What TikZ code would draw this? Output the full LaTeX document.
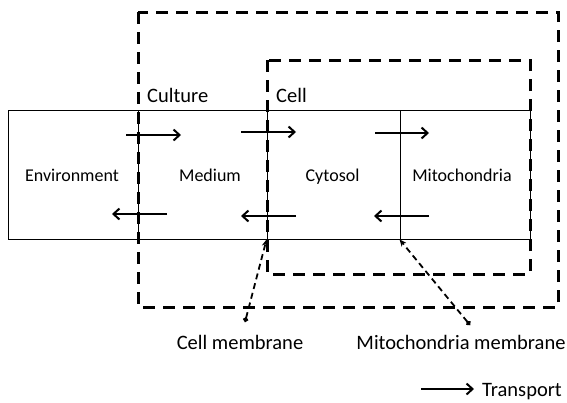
\documentclass[tikz,border=0pt]{standalone}
\usepackage{fontspec}
\setmainfont{Carlito}
\usetikzlibrary{arrows.meta}
\begin{document}
\begin{tikzpicture}[x=1pt,y=-1pt,
  comp/.style={draw,line width=0.9pt,inner sep=0pt},
  region/.style={draw,line width=3pt,dash pattern=on 12pt off 8pt},
  tr/.style={line width=2pt,-{Straight Barb[length=6pt,width=11pt,line width=2pt]}},
  pointer/.style={line width=1.8pt,dash pattern=on 6pt off 4pt},
  inlbl/.style={inner sep=0pt,anchor=base,font=\fontsize{18}{20}\selectfont},
  lbl/.style={inner sep=0pt,anchor=base,font=\fontsize{20.5}{23}\selectfont}]
\useasboundingbox (0,0) rectangle (567,402);
% regions
\draw[region] (138,12) rectangle (558,307);
\draw[region] (267,60) rectangle (530,274);
% compartments
\node[comp,minimum width=130pt,minimum height=129pt] (env) at (73,174.5) {};
\node[comp,minimum width=129pt,minimum height=129pt] (med) at (202.5,174.5) {};
\node[comp,minimum width=133pt,minimum height=129pt] (cyt) at (333.5,174.5) {};
\node[comp,minimum width=130pt,minimum height=129pt] (mit) at (465,174.5) {};
\node[inlbl] at (72,181) {Environment};
\node[inlbl] at (210,181) {Medium};
\node[inlbl] at (332.5,181) {Cytosol};
\node[inlbl] at (462,181) {Mitochondria};
\node[lbl,anchor=base west] (culture) at (147,102) {Culture};
\node[lbl,anchor=base west] (cell) at (276,102) {Cell};
% transport arrows
\coordinate (a1) at (126,135); \coordinate (b1) at (181,135);
\coordinate (a2) at (241,132); \coordinate (b2) at (296,132);
\coordinate (a3) at (375,133); \coordinate (b3) at (429,133);
\coordinate (a4) at (167,214); \coordinate (b4) at (112,214);
\coordinate (a5) at (296,216); \coordinate (b5) at (241,216);
\coordinate (a6) at (429,216); \coordinate (b6) at (374,216);
\draw[tr] (a1) -- (b1);
\draw[tr] (a2) -- (b2);
\draw[tr] (a3) -- (b3);
\draw[tr] (a4) -- (b4);
\draw[tr] (a5) -- (b5);
\draw[tr] (a6) -- (b6);
% membrane labels
\node[lbl] (cm) at (240,349) {Cell membrane};
\node[lbl] (mm) at (461,349) {Mitochondria membrane};
\coordinate (cmtop) at (cyt.south west);
\coordinate (cmbot) at (245,322);
\coordinate (mmtop) at (mit.south west);
\coordinate (mmbot) at (470,325);
\draw[pointer,{Circle[length=5pt]}-{Stealth[length=7pt,width=6pt]}] (cmbot) -- (cmtop);
\draw[pointer,{Circle[length=5pt]}-{Stealth[length=7pt,width=6pt]}] (mmbot) -- (mmtop);
% legend
\coordinate (l1) at (421,389); \coordinate (l2) at (474,389);
\draw[tr] (l1) -- (l2);
\node[lbl,anchor=base west] (leg) at (482,396) {Transport};
\end{tikzpicture}
\end{document}
